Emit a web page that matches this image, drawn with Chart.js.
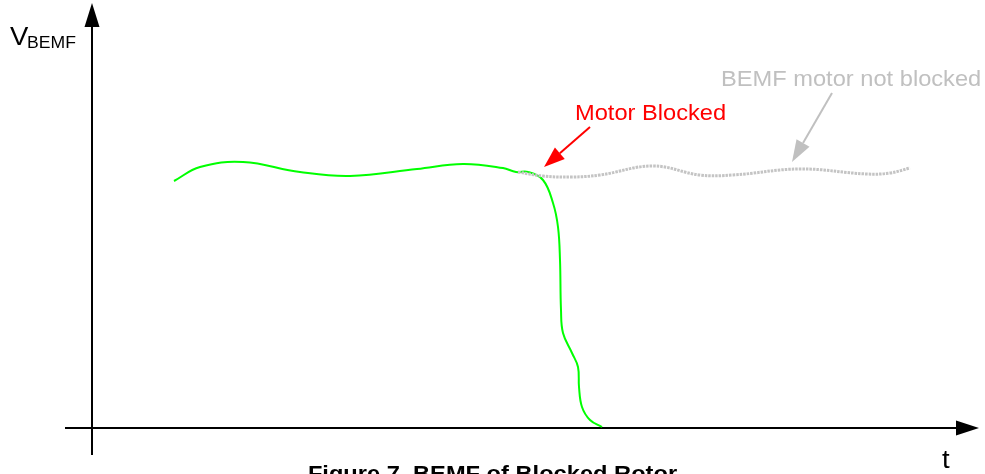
<!DOCTYPE html>
<html>
<head>
<meta charset="utf-8">
<script src="https://cdn.jsdelivr.net/npm/chart.js@4/dist/chart.umd.min.js"></script>
<style>
  html, body { margin: 0; padding: 0; background: #fff; }
  canvas { display: block; }
</style>
</head>
<body>
<canvas id="bemf" width="985" height="474"></canvas>
<script>
// time / voltage in arbitrary units (origin = axis crossing)
const greenT = [82, 108, 151, 208, 258, 325, 371, 411, 424, 436, 451, 461, 466, 468, 469, 471, 480, 486, 487, 490, 498, 510];
const greenV = [247, 261, 266, 256, 252, 259, 264, 260, 256, 256, 248, 225, 201, 168, 118, 95, 75, 61, 41, 21, 8, 1];

const greyT = [426, 451, 480, 508, 561, 608, 641, 708, 775, 798, 818];
const greyV = [256, 252, 251, 253, 262, 253, 253, 259, 254, 255, 260];

// axis extents
const tRange = [-27, 887];
const vRange = [-27, 425];

// annotations: [tailT, tailV, tipT, tipV]
const blockedArrow = [498, 301, 452, 261];
const notBlockedArrow = [740, 335, 700, 266];

const FONT = "'Liberation Sans', Arial, sans-serif";
const STRETCH = 1.1;

function toPoints(xs, ys) {
  return xs.map((x, i) => ({ x: x, y: ys[i] }));
}

function stretchedText(ctx, text, x, y, font, color, align) {
  ctx.save();
  ctx.font = font;
  ctx.fillStyle = color;
  ctx.textBaseline = "alphabetic";
  const w = ctx.measureText(text).width * STRETCH;
  let left = x;
  if (align === "center") left = x - w / 2;
  ctx.translate(left, y);
  ctx.scale(STRETCH, 1);
  ctx.fillText(text, 0, 0);
  ctx.restore();
}

function arrowHead(ctx, x1, y1, x2, y2, len, half, color) {
  const a = Math.atan2(y2 - y1, x2 - x1);
  const bx = x2 - len * Math.cos(a);
  const by = y2 - len * Math.sin(a);
  ctx.fillStyle = color;
  ctx.beginPath();
  ctx.moveTo(x2, y2);
  ctx.lineTo(bx + half * Math.sin(a), by - half * Math.cos(a));
  ctx.lineTo(bx - half * Math.sin(a), by + half * Math.cos(a));
  ctx.closePath();
  ctx.fill();
  return [bx, by];
}

function arrow(ctx, x1, y1, x2, y2, len, half, color, width) {
  const base = arrowHead(ctx, x1, y1, x2, y2, len, half, color);
  ctx.strokeStyle = color;
  ctx.lineWidth = width;
  ctx.beginPath();
  ctx.moveTo(x1, y1);
  ctx.lineTo(base[0], base[1]);
  ctx.stroke();
}

const decorations = {
  id: "decorations",
  beforeDatasetsDraw(chart) {
    const ctx = chart.ctx;
    const xs = chart.scales.x;
    const ys = chart.scales.y;
    const x0 = xs.getPixelForValue(0);
    const y0 = ys.getPixelForValue(0);
    ctx.save();
    // axes
    arrow(ctx, x0, ys.getPixelForValue(vRange[0]), x0, ys.getPixelForValue(vRange[1]), 24, 7.5, "#000", 2);
    arrow(ctx, xs.getPixelForValue(tRange[0]), y0, xs.getPixelForValue(tRange[1]), y0, 23, 7.5, "#000", 2);
    ctx.restore();
  },
  afterDatasetsDraw(chart) {
    const ctx = chart.ctx;
    const xs = chart.scales.x;
    const ys = chart.scales.y;
    const px = (t) => xs.getPixelForValue(t);
    const py = (v) => ys.getPixelForValue(v);
    ctx.save();
    arrow(ctx, px(blockedArrow[0]), py(blockedArrow[1]), px(blockedArrow[2]), py(blockedArrow[3]), 21, 7.5, "#ff0000", 2);
    arrow(ctx, px(notBlockedArrow[0]), py(notBlockedArrow[1]), px(notBlockedArrow[2]), py(notBlockedArrow[3]), 22, 7.5, "#c0c0c0", 2);

    stretchedText(ctx, "Motor Blocked", px(483), py(308), "21.5px " + FONT, "#ff0000");
    stretchedText(ctx, "BEMF motor not blocked", px(629), py(342), "21.5px " + FONT, "#c0c0c0");
    stretchedText(ctx, "V", px(-82), py(383), "25px " + FONT, "#000");
    stretchedText(ctx, "BEMF", px(-65), py(380), "16px " + FONT, "#000");
    stretchedText(ctx, "t", px(850), py(-40), "25px " + FONT, "#000");
    stretchedText(ctx, "Figure 7. BEMF of Blocked Rotor", chart.width / 2, 481, "bold 21.5px " + FONT, "#000", "center");
    ctx.restore();
  }
};

new Chart(document.getElementById("bemf"), {
  type: "line",
  data: {
    datasets: [
      {
        label: "BEMF not blocked",
        data: toPoints(greyT, greyV),
        borderColor: "#c4c4c4",
        borderWidth: 3,
        borderDash: [2.5, 1],
        pointRadius: 0,
        tension: 0.4,
        fill: false
      },
      {
        label: "BEMF",
        data: toPoints(greenT, greenV),
        borderColor: "#00ff00",
        borderWidth: 2,
        pointRadius: 0,
        tension: 0.4,
        fill: false
      }
    ]
  },
  options: {
    responsive: false,
    animation: false,
    layout: { padding: 0 },
    plugins: {
      legend: { display: false },
      tooltip: { enabled: false }
    },
    scales: {
      x: { type: "linear", min: -92, max: 893, display: false },
      y: { type: "linear", min: -46, max: 428, display: false }
    }
  },
  plugins: [decorations]
});
</script>
</body>
</html>
